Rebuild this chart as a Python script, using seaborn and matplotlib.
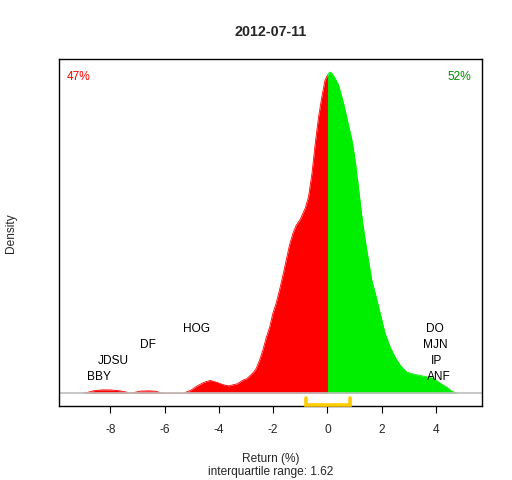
import numpy as np
import pandas as pd
import matplotlib
matplotlib.use('Agg')
import matplotlib.pyplot as plt
import seaborn as sns

# density of the day's returns
ret = [-9.0, -8.88, -8.6, -8.3, -8.0, -7.7, -7.4, -7.33, -7.25, -7.15, -6.9, -6.6, -6.3, -6.16, -6.0,
       -5.3, -5.05, -4.81, -4.56, -4.32, -4.07, -3.83, -3.64, -3.33, -3.11, -2.97, -2.87, -2.72, -2.62,
       -2.5, -2.38, -2.25, -2.13, -2.01, -1.89, -1.76, -1.64, -1.52, -1.40, -1.27, -1.15, -1.0, -0.82,
       -0.70, -0.57, -0.45, -0.33, -0.21, -0.09, 0.0, 0.04, 0.1, 0.16, 0.28, 0.41, 0.59, 0.71, 0.90,
       1.02, 1.14, 1.27, 1.39, 1.51, 1.63, 1.76, 1.94, 2.12, 2.31, 2.49, 2.68, 2.92, 3.17, 3.53, 3.90,
       4.15, 4.39, 4.58, 4.76]
dens = [0.0, 0.0006, 0.0031, 0.0041, 0.004, 0.0031, 0.0013, 0.0004, 0.0, 0.0006, 0.0025, 0.0029,
        0.0023, 0.0004, 0.0, 0.0, 0.0034, 0.0088, 0.0134, 0.0159, 0.0134, 0.0104, 0.0091, 0.0116,
        0.0163, 0.0181, 0.0213, 0.0263, 0.0313, 0.0413, 0.0538, 0.07, 0.0825, 0.1, 0.1125, 0.13, 0.1475,
        0.1663, 0.185, 0.2, 0.21, 0.2175, 0.2313, 0.245, 0.275, 0.3125, 0.345, 0.37, 0.3913, 0.3975,
        0.4, 0.4013, 0.4, 0.3938, 0.385, 0.3625, 0.345, 0.3163, 0.2913, 0.2575, 0.22, 0.1913, 0.1663,
        0.1413, 0.125, 0.1, 0.075, 0.0575, 0.045, 0.035, 0.0263, 0.0238, 0.0213, 0.0188, 0.0125,
        0.0075, 0.0025, 0.0]

left_names = ['BBY', 'JDSU', 'DF', 'HOG']
left_x = [-8.42, -7.90, -6.61, -4.81]
right_names = ['ANF', 'IP', 'MJN', 'DO']
right_x = [4.11, 4.0, 3.98, 3.95]
label_levels = [0.05, 0.10, 0.15, 0.20]

quartiles = [-0.79, 0.83]
pct_down = '47%'
pct_up = '52%'
day = '2012-07-11'

df = pd.DataFrame({'ret': ret, 'dens': dens})
neg = df[df['ret'] <= 0]
pos = df[df['ret'] >= 0]
peak = df['dens'].max()

sns.set_style('white')
plt.rcParams['font.family'] = ['Liberation Sans', 'DejaVu Sans']

fig = plt.figure(figsize=(5.12, 4.8), dpi=100)
ax = fig.add_axes([0.1152, 0.1542, 0.8256, 0.7223])

ax.fill_between(neg['ret'], 0, neg['dens'], color='#FF0000', linewidth=0)
ax.fill_between(pos['ret'], 0, pos['dens'], color='#00EE00', linewidth=0)
sns.lineplot(data=neg, x='ret', y='dens', ax=ax, color='#FF0000', linewidth=0.6)
sns.lineplot(data=pos, x='ret', y='dens', ax=ax, color='#00EE00', linewidth=0.6)
ax.axhline(0, color='#BEBEBE', linewidth=1.2)

xmin, xmax = -9.89, 5.68
ymin, ymax = -0.04 * peak, 1.04 * peak
ax.set_xlim(xmin, xmax)
ax.set_ylim(ymin, ymax)

# interquartile bracket on the bottom
qy = ymin + 0.0012
ax.plot([quartiles[0], quartiles[0], quartiles[1], quartiles[1]],
        [ymin + 0.01, qy, qy, ymin + 0.01], color='#FFCC00', linewidth=2.6,
        solid_joinstyle='miter', clip_on=False, zorder=5)

for name, x, lv in zip(left_names, left_x, label_levels):
    ax.text(x, lv * peak, name, ha='center', va='center', fontsize=8.6, color='black')
for name, x, lv in zip(right_names, right_x, label_levels):
    ax.text(x, lv * peak, name, ha='center', va='center', fontsize=8.6, color='black')

ax.text(-9.15, 0.985 * peak, pct_down, ha='center', va='center', fontsize=8.6, color='#FF0000')
ax.text(4.84, 0.985 * peak, pct_up, ha='center', va='center', fontsize=8.6, color='#008B00')

ax.set_xticks([-8, -6, -4, -2, 0, 2, 4])
ax.set_xticklabels(['-8', '-6', '-4', '-2', '0', '2', '4'], fontsize=8.6)
ax.set_yticks([])
ax.tick_params(axis='x', direction='out', length=5, width=0.8, color='black', pad=8, bottom=True)
for s in ax.spines.values():
    s.set_color('black')
    s.set_linewidth(1.0)

ax.set_xlabel('Return (%)\ninterquartile range: 1.62', fontsize=8.6, labelpad=12, linespacing=1.1)
ax.set_ylabel('Density', fontsize=8.6, va='center')
ax.yaxis.set_label_coords(-0.114, 0.5)
ax.set_title(day, fontsize=10.3, fontweight='bold', pad=17)

fig.savefig('out.png', dpi=100)
